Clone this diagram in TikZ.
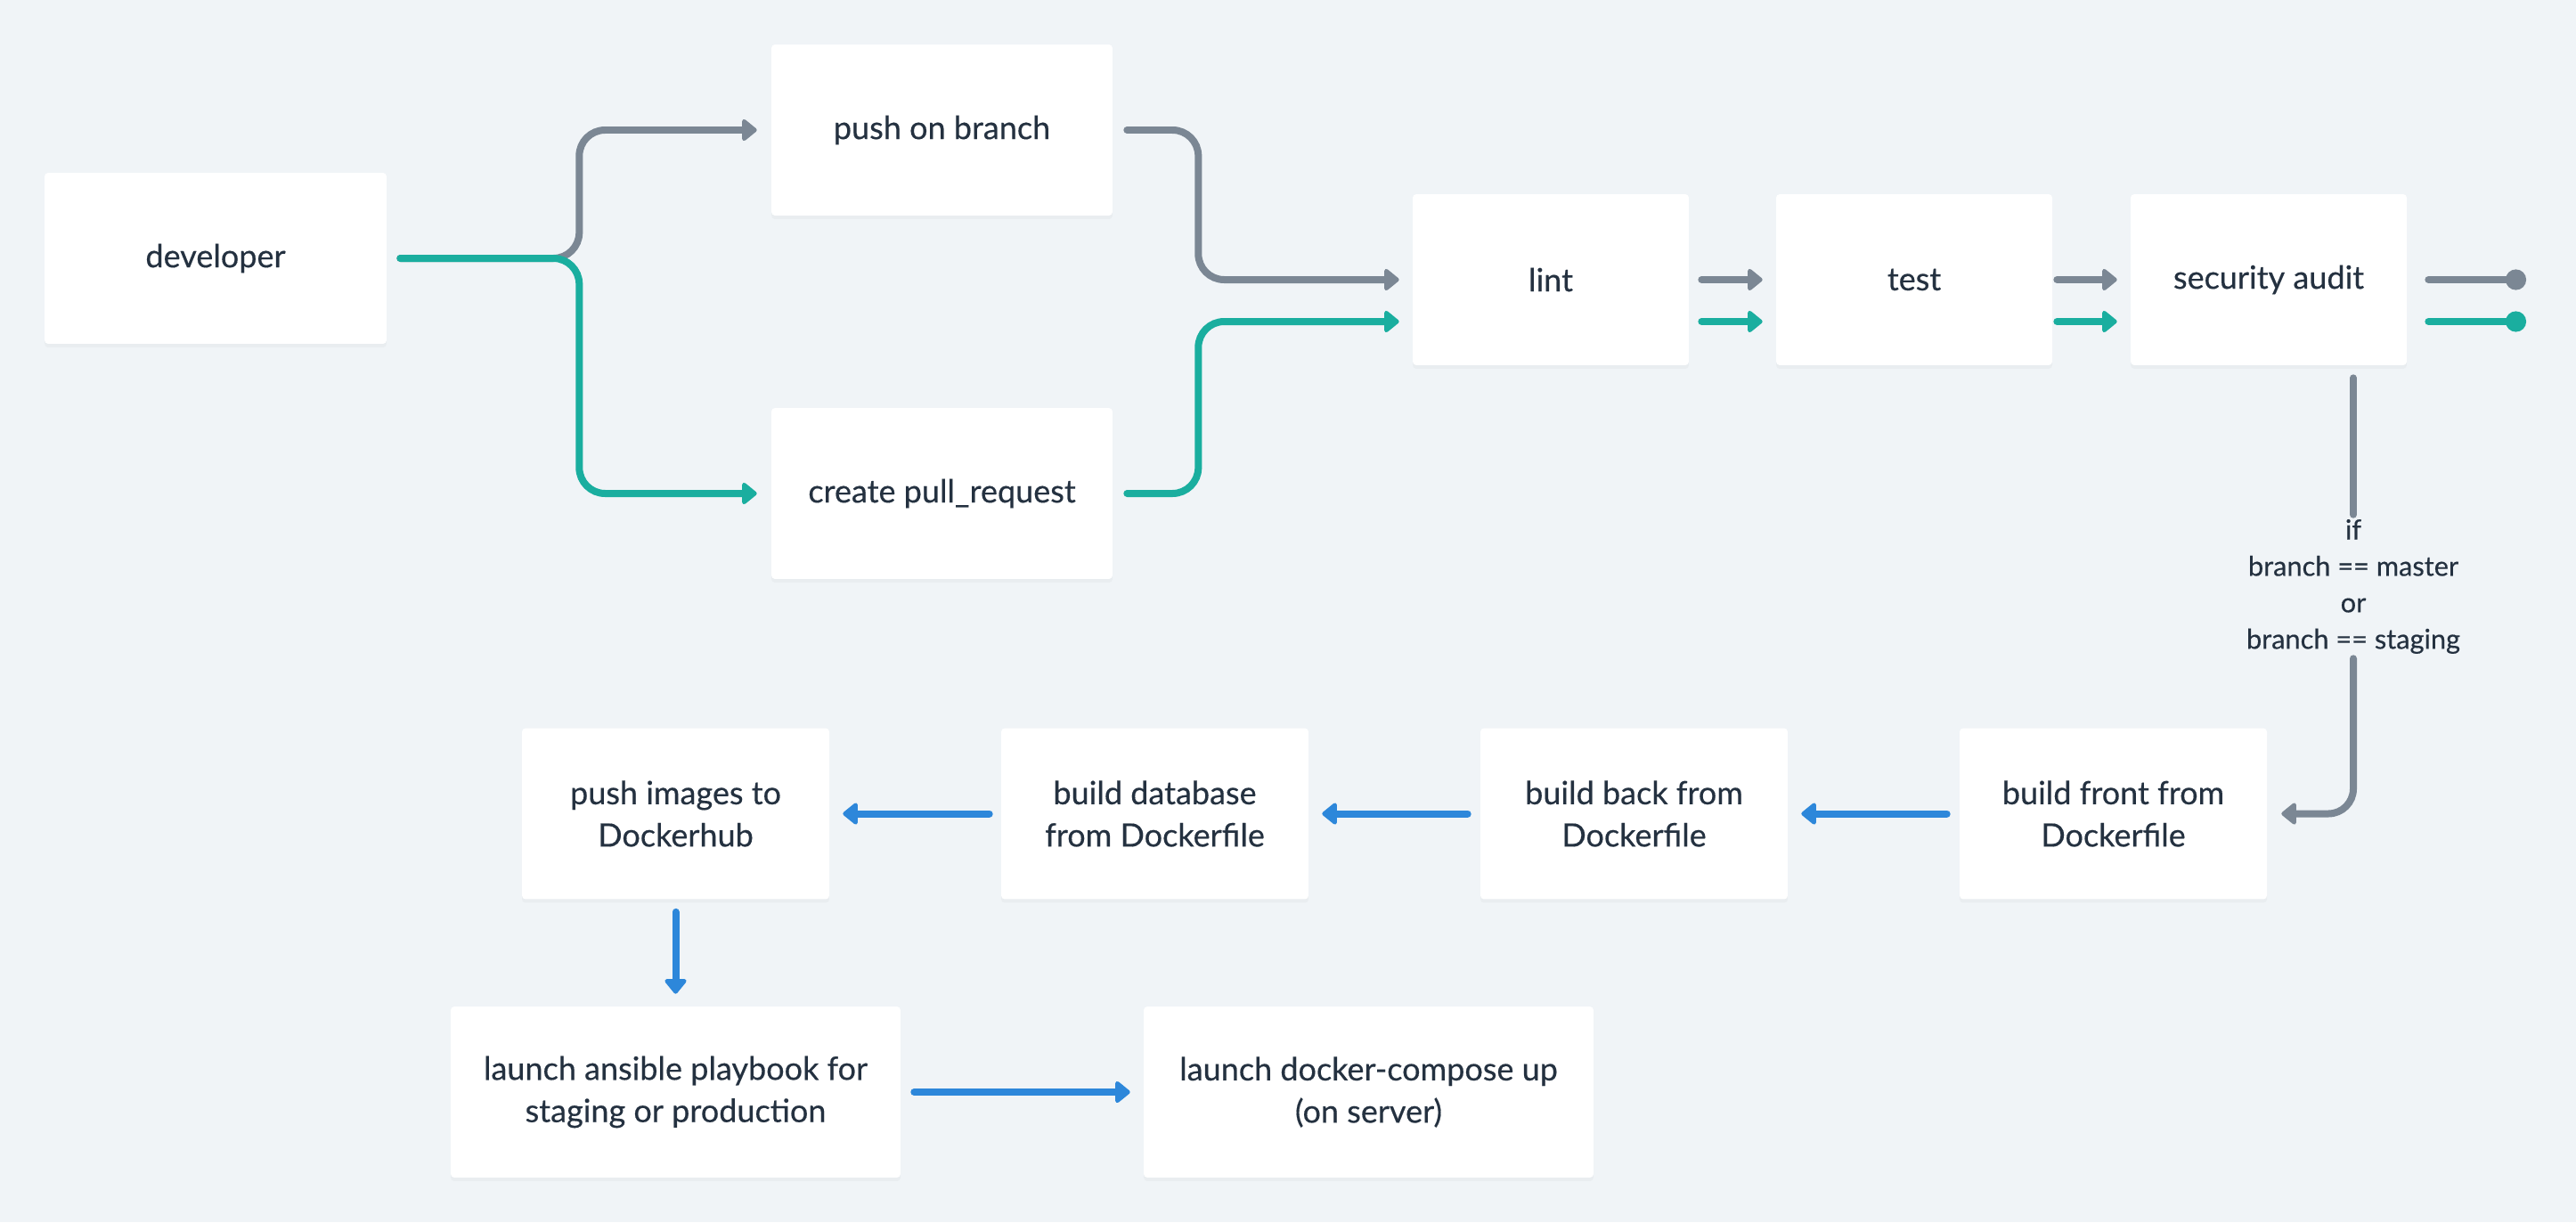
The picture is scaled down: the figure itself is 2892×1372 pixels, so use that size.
\documentclass[tikz,border=0pt]{standalone}
\usepackage{fontspec}
\setmainfont{Lato}
\newfontfamily\medfont{Lato}[FakeBold=0.35]
\usetikzlibrary{arrows.meta,calc,shadows}
\definecolor{bg}{HTML}{F0F4F7}
\definecolor{txt}{HTML}{243140}
\definecolor{cgray}{HTML}{7B8794}
\definecolor{cteal}{HTML}{1AAE9F}
\definecolor{cblue}{HTML}{2D87DA}
\begin{document}
\begin{tikzpicture}[x=0.02cm,y=-0.02cm,
  box/.style={fill=white, rounded corners=0.08cm, text=txt,
    font=\medfont\fontsize{20.5}{27}\selectfont, align=center,
    minimum height=3.84cm, inner sep=0pt,
    drop shadow={opacity=0.06, shadow xshift=0pt, shadow yshift=-0.08cm}},
  conn/.style={line width=0.16cm, line cap=round, rounded corners=0.58cm,
    -{Triangle[length=0.36cm,width=0.56cm,round]}},
  dotconn/.style={line width=0.16cm, line cap=round,
    -{Circle[length=0.46cm]}},
  lbl/.style={text=txt, font=\medfont\fontsize{17.5}{23.3}\selectfont, align=center,
    inner xsep=0pt, inner ysep=0.1cm}
]
\fill[bg] (0,0) rectangle (2892,1372);
\useasboundingbox (0,0) rectangle (2892,1372);

% boxes
\node[box, minimum width=7.68cm] (dev) at (242,290) {developer};
\node[box, minimum width=7.66cm] (push) at (1057.5,146) {push on branch};
\node[box, minimum width=7.66cm] (pr) at (1057.5,554) {create pull\_request};
\node[box, minimum width=6.2cm] (lint) at (1741,314) {lint};
\node[box, minimum width=6.2cm] (test) at (2149,314) {test};
\node[box, minimum width=6.2cm] (sec) at (2547,314) {security audit};
\node[box, minimum width=6.9cm] (front) at (2372.5,913.5) {build front from\\Dockerfile};
\node[box, minimum width=6.9cm] (back) at (1834.5,913.5) {build back from\\Dockerfile};
\node[box, minimum width=6.9cm] (db) at (1296.5,913.5) {build database\\from Dockerfile};
\node[box, minimum width=6.9cm] (pimg) at (758.5,913.5) {push images to\\Dockerhub};
\node[box, minimum width=10.1cm] (ans) at (758.5,1226) {launch ansible playbook for\\staging or production};
\node[box, minimum width=10.1cm] (comp) at (1536.5,1226) {launch docker-compose up\\(on server)};

\node[lbl] (cond) at (2642,658.5) {if\\branch == master\\or\\branch == staging};

\coordinate (lintT) at ($(lint.west)+(0,47)$);
\coordinate (testT) at ($(test.west)+(0,47)$);
\coordinate (secT) at ($(sec.west)+(0,47)$);
\coordinate (lintTo) at ($(lint.east)+(0,47)$);
\coordinate (testTo) at ($(test.east)+(0,47)$);
\coordinate (secTo) at ($(sec.east)+(0,47)$);
\coordinate (endG) at (2836,314);
\coordinate (endT) at (2836,361);

% top connectors
\draw[conn, cgray, shorten <=0.3cm, shorten >=0.32cm] (dev.east) -- ++(216,0) |- (push.west);
\draw[conn, cteal, shorten <=0.3cm, shorten >=0.32cm] (dev.east) -- ++(216,0) |- (pr.west);
\draw[conn, cgray, shorten <=0.32cm, shorten >=0.3cm] (push.east) -- ++(96,0) |- (lint.west);
\draw[conn, cteal, shorten <=0.32cm, shorten >=0.3cm] (pr.east) -- ++(96,0) |- (lintT);

\draw[conn, cgray, shorten <=0.28cm, shorten >=0.3cm] (lint.east) -- (test.west);
\draw[conn, cteal, shorten <=0.28cm, shorten >=0.3cm] (lintTo) -- (testT);
\draw[conn, cgray, shorten <=0.1cm, shorten >=0.3cm] (test.east) -- (sec.west);
\draw[conn, cteal, shorten <=0.1cm, shorten >=0.3cm] (testTo) -- (secT);

\draw[dotconn, cgray, shorten <=0.48cm] (sec.east) -- (endG);
\draw[dotconn, cteal, shorten <=0.48cm] (secTo) -- (endT);

% condition
\draw[line width=0.16cm, line cap=round, cgray, shorten <=0.28cm] (cond.north |- sec.south) -- (cond.north);
\draw[conn, cgray, rounded corners=0.56cm, shorten >=0.32cm] (cond.south) |- (front.east);

% bottom connectors
\draw[conn, cblue, shorten <=0.28cm, shorten >=0.3cm] (front.west) -- (back.east);
\draw[conn, cblue, shorten <=0.28cm, shorten >=0.3cm] (back.west) -- (db.east);
\draw[conn, cblue, shorten <=0.26cm, shorten >=0.3cm] (db.west) -- (pimg.east);
\draw[conn, cblue, shorten <=0.28cm, shorten >=0.28cm] (pimg.south) -- (ans.north);
\draw[conn, cblue, shorten <=0.3cm, shorten >=0.3cm] (ans.east) -- (comp.west);
\end{tikzpicture}
\end{document}
